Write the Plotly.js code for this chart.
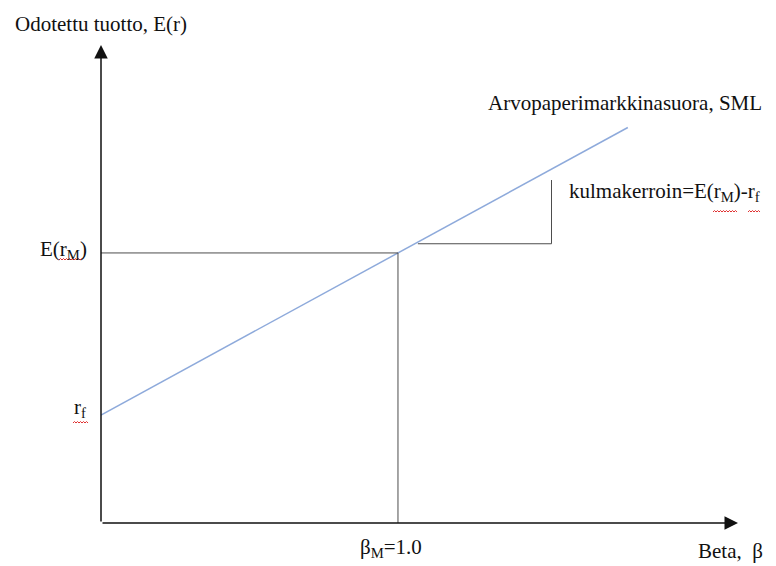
<!DOCTYPE html>
<html>
<head>
<meta charset="utf-8">
<script src="https://cdn.plot.ly/plotly-3.0.1.min.js"></script>
<style>html,body{margin:0;padding:0;background:#fff;}#chart{width:776px;height:566px;}</style>
</head>
<body>
<div id="chart"></div>
<script>
// Security Market Line (SML) — conceptual values
const riskFree = 4;          // r_f
const marketReturn = 10;     // E(r_M)
const betaMarket = 1.0;      // beta_M
const smlBeta = [0, 1.774];  // SML drawn from beta 0 to this end
const smlReturn = smlBeta.map(b => riskFree + (marketReturn - riskFree) * b);
const triBeta = [1.067, 1.517, 1.517];   // slope triangle corners (beta)
const triReturn = [10.34, 10.34, 12.7];  // slope triangle corners (return)
const xMax = 2.145, yMax = 17.7;

const serif = "Liberation Serif, Times New Roman, serif";
const gray = "#4d4d4d";
const M = {l: 101, r: 38, t: 45, b: 43};
const W = 776, H = 566;

const traces = [
  {x: smlBeta, y: smlReturn, mode: "lines", line: {color: "#8eaadb", width: 1.5}, hoverinfo: "skip"},
  {x: [0, betaMarket, betaMarket], y: [marketReturn, marketReturn, 0], mode: "lines", line: {color: gray, width: 1}, hoverinfo: "skip"},
  {x: triBeta, y: triReturn, mode: "lines", line: {color: gray, width: 1}, hoverinfo: "skip"}
];

const txt = (text, x, y, xa, ya) => ({text, x, y, xref: "paper", yref: "paper", xanchor: xa, yanchor: ya, showarrow: false, font: {family: serif, size: 21, color: "#111"}});

const annotations = [
  // axes with arrows
  {x: 0, y: yMax, ax: 0, ay: 0, xref: "x", yref: "y", axref: "x", ayref: "y", text: "", showarrow: true, arrowhead: 2, arrowsize: 1.8, arrowwidth: 1.5, arrowcolor: "#111"},
  {x: xMax, y: 0, ax: 0, ay: 0, xref: "x", yref: "y", axref: "x", ayref: "y", text: "", showarrow: true, arrowhead: 2, arrowsize: 1.8, arrowwidth: 1.5, arrowcolor: "#111"},
  txt("Odotettu tuotto, E(r)", -0.138, 1.044, "left", "middle"),
  txt("Arvopaperimarkkinasuora, SML", 0.604, 0.879, "left", "middle"),
  txt("kulmakerroin=E(r<sub>M</sub>)-r<sub>f</sub>", 0.7316, 0.6925, "left", "middle"),
  txt("E(r<sub>M</sub>)", -0.0188, 0.571, "right", "middle"),
  txt("r<sub>f</sub>", -0.0204, 0.2406, "right", "middle"),
  txt("β<sub>M</sub>=1.0", 0.455, -0.0523, "center", "middle"),
  txt("Beta,  β", 0.934, -0.0586, "left", "middle")
];

// red wavy spell-check underlines (decoration), given in pixel positions
const px2x = p => (p - M.l) / (W - M.l - M.r);
const py2y = p => (H - M.b - p) / (H - M.t - M.b);
function squiggle(x0, x1, y) {
  let d = "M " + px2x(x0) + " " + py2y(y);
  let up = true;
  for (let p = x0 + 1.5; p <= x1; p += 1.5) {
    d += " L " + px2x(p) + " " + py2y(y + (up ? -1.5 : 0));
    up = !up;
  }
  return {type: "path", xref: "paper", yref: "paper", path: d, line: {color: "#e03030", width: 1}};
}
const shapes = [
  squiggle(59, 82, 260),
  squiggle(73, 89, 423),
  squiggle(713, 737, 212),
  squiggle(748, 761, 212)
];

const layout = {
  width: W, height: H,
  margin: M,
  paper_bgcolor: "#fff", plot_bgcolor: "#fff",
  showlegend: false,
  xaxis: {range: [0, xMax], showgrid: false, zeroline: false, showticklabels: false, ticks: "", showline: false},
  yaxis: {range: [0, yMax], showgrid: false, zeroline: false, showticklabels: false, ticks: "", showline: false},
  annotations, shapes
};

Plotly.newPlot("chart", traces, layout, {displayModeBar: false, staticPlot: true});
</script>
</body>
</html>
